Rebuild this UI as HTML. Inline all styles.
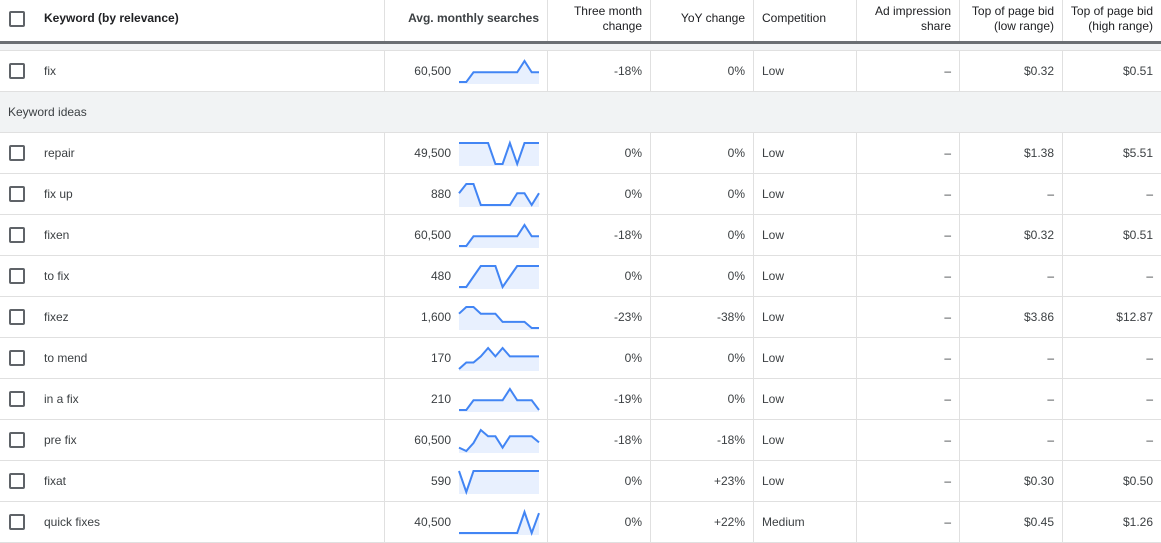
<!DOCTYPE html>
<html><head><meta charset="utf-8">
<style>
body{margin:0;width:1161px;height:538px;overflow:hidden;background:#fff;font-family:"Liberation Sans",Arial,sans-serif;font-size:12px;color:#3c4043;position:relative}
.a{position:absolute}
.cb{position:absolute;width:12px;height:12px;border:2px solid #5f6368;border-radius:2px;box-sizing:content-box}
.vl{position:absolute;width:1px;background:#e0e0e0}
.hl{position:absolute;height:1px;background:#e0e0e0;left:0;width:1161px}
.hd{position:absolute;color:#202124;line-height:15px;font-size:12px}
.r{text-align:right}
</style></head><body>
<div id="root"></div>
<script>
const keywords=["fix","repair","fix up","fixen","to fix","fixez","to mend","in a fix","pre fix","fixat","quick fixes"];
const searches=["60,500","49,500","880","60,500","480","1,600","170","210","60,500","590","40,500"];
const threeMonth=["-18%","0%","0%","-18%","0%","-23%","0%","-19%","-18%","0%","0%"];
const yoy=["0%","0%","0%","0%","0%","-38%","0%","0%","-18%","+23%","+22%"];
const competition=["Low","Low","Low","Low","Low","Low","Low","Low","Low","Low","Medium"];
const bidLow=["$0.32","$1.38","–","$0.32","–","$3.86","–","–","–","$0.30","$0.45"];
const bidHigh=["$0.51","$5.51","–","$0.51","–","$12.87","–","–","–","$0.50","$1.26"];
const trend=[
[0,0,0.46,0.46,0.46,0.46,0.46,0.46,0.46,1,0.46,0.46],
[1,1,1,1,1,0,0,1,0,1,1,1],
[0.56,1,1,0,0,0,0,0,0.56,0.56,0,0.56],
[0,0,0.46,0.46,0.46,0.46,0.46,0.46,0.46,1,0.46,0.46],
[0,0,0.5,1,1,1,0,0.5,1,1,1,1],
[0.68,1,1,0.68,0.68,0.68,0.29,0.29,0.29,0.29,0,0],
[0,0.31,0.31,0.6,1,0.6,1,0.6,0.6,0.6,0.6,0.6],
[0,0,0.46,0.46,0.46,0.46,0.46,1,0.46,0.46,0.46,0],
[0.16,0,0.38,1,0.7,0.7,0.16,0.7,0.7,0.7,0.7,0.41],
[1,0,1,1,1,1,1,1,1,1,1,1],
[0,0,0,0,0,0,0,0,0,1,0,0.95]
];
const root=document.getElementById('root');
function mk(cls,css,txt){const d=document.createElement('div');d.className=cls;d.style.cssText=css;if(txt!==undefined)d.textContent=txt;root.appendChild(d);return d;}
const colR=[384,547,650,753,856,959,1062,1161];
let e;
e=mk('cb','left:9px;top:11px');


e=mk('hd','left:44px;top:11px;font-weight:bold','Keyword (by relevance)');


const heads=[["Avg. monthly searches"],["Three month","change"],["YoY change"],null,["Ad impression","share"],["Top of page bid","(low range)"],["Top of page bid","(high range)"]];
for(let i=0;i<heads.length;i++){
  if(!heads[i])continue;
  const h=heads[i];
  const top=h.length==1?11:4;
  e=mk('hd r','left:'+(colR[i+1]-160)+'px;width:152px;top:'+top+'px;'+(i==0?'font-weight:bold;color:#3c4043':''),'');
  e.innerHTML=h.join('<br>');
  
  
}
e=mk('hd','left:762px;top:11px','Competition');


for(let i=0;i<colR.length-1;i++){e=mk('vl','left:'+colR[i]+'px;top:0;height:42px');

}
e=mk('a','left:0;top:41px;width:1161px;height:3px;background:#6b6f73');


e=mk('a','left:0;top:44px;width:1161px;height:6px;background:#f1f3f4');


e=mk('a','left:0;top:92px;width:1161px;height:40px;background:#f1f3f4');


e=mk('a','left:8px;top:105px;color:#3c4043','Keyword ideas');


[50,91,132].forEach(y=>{e=mk('hl','top:'+y+'px');

});
const NS='http://www.w3.org/2000/svg';
function rowTop(i){return i==0?51:133+(i-1)*41;}
for(let i=0;i<keywords.length;i++){
  const t=rowTop(i), h=40, ty=t+13;
  if(i>0){e=mk('hl','top:'+(t+40)+'px');
  
  }
  for(let c=0;c<colR.length-1;c++){e=mk('vl','left:'+colR[c]+'px;top:'+t+'px;height:'+h+'px');
  
  }
  e=mk('cb','left:9px;top:'+(t+12)+'px');
  
  
  e=mk('a','left:44px;top:'+ty+'px',keywords[i]);
  
  
  e=mk('a r','left:351px;width:100px;top:'+ty+'px',searches[i]);
  
  
  const vals=[threeMonth[i],yoy[i],null,"–",bidLow[i],bidHigh[i]];
  const names=['three-month-cell','yoy-cell',null,'ad-impression-cell','bid-low-cell','bid-high-cell'];
  for(let k=0;k<vals.length;k++){
    if(vals[k]===null)continue;
    e=mk('a r','left:'+(colR[k+2]-150)+'px;width:142px;top:'+ty+'px',vals[k]);
    
    
  }
  e=mk('a','left:762px;top:'+ty+'px',competition[i]);
  
  
  const svg=document.createElementNS(NS,'svg');
  svg.setAttribute('width','84');svg.setAttribute('height','30');
  svg.style.cssText='position:absolute;left:457px;top:'+(t+6)+'px';
  
  
  const x=j=>2+j*80/11, y=v=>25-v*21;
  let pts=trend[i].map((v,j)=>x(j).toFixed(1)+','+y(v).toFixed(1));
  const area=document.createElementNS(NS,'polygon');
  area.setAttribute('points',pts.join(' ')+' '+x(11)+',27 '+x(0)+',27');
  area.setAttribute('fill','#e8f0fe');
  
  
  const line=document.createElementNS(NS,'polyline');
  line.setAttribute('points',pts.join(' '));
  line.setAttribute('fill','none');line.setAttribute('stroke','#4285f4');line.setAttribute('stroke-width','2');
  
  
  svg.appendChild(area);svg.appendChild(line);root.appendChild(svg);
}
</script>
</body></html>
